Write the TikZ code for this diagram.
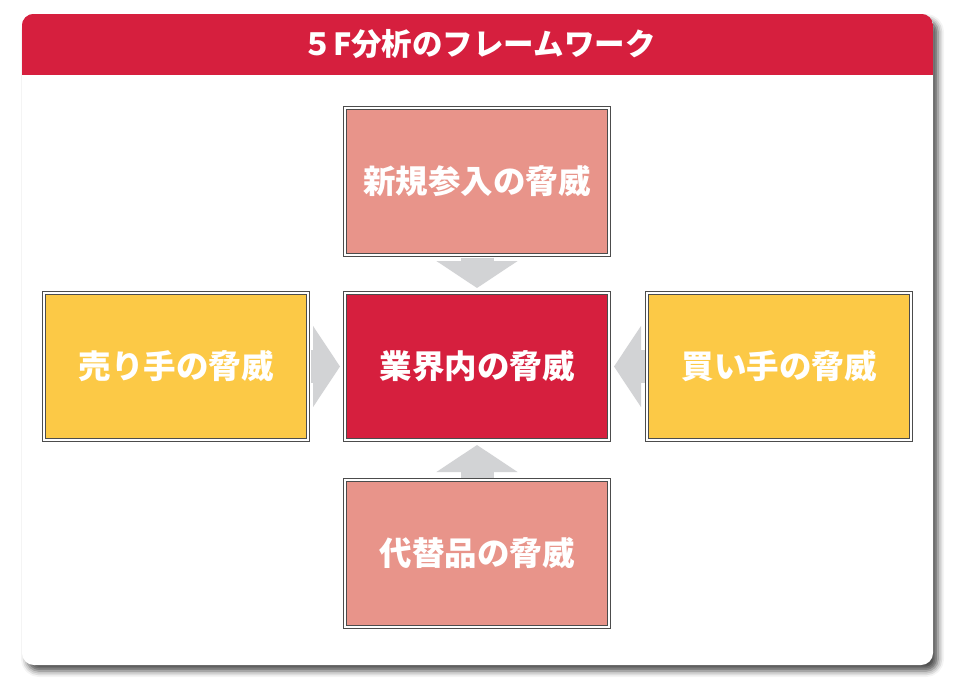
\documentclass[tikz,border=0pt]{standalone}
\usepackage{fontspec}
\setmainfont{Noto Sans CJK JP}
\usetikzlibrary{positioning, arrows.meta, shadows.blur}
\definecolor{headred}{HTML}{D61F3E}
\definecolor{salmon}{HTML}{E8948A}
\definecolor{amber}{HTML}{FCC946}
\definecolor{arrowgray}{HTML}{D2D3D5}

\begin{document}
\begin{tikzpicture}[x=1pt, y=-1pt,
  threat/.style={draw=black!70, line width=1pt, double=white, double distance=1.8pt,
    minimum width=264pt, minimum height=147pt, text=white,
    font=\fontsize{32.5}{38}\selectfont\bfseries},
  flow/.style={draw=arrowgray, line width=33pt, shorten >=4.5pt, shorten <=2pt,
    -{Triangle[width=80pt,length=27pt]}}]
\useasboundingbox (0,0) rectangle (957,686);

% card with shadow
\node[fill=white, rounded corners=12pt, minimum width=911pt, minimum height=651pt,
  blur shadow={shadow xshift=5pt, shadow yshift=-6pt, shadow blur radius=6pt, shadow opacity=70}]
  (card) at (477.5,339.5) {};

% header band
\begin{scope}
\clip[rounded corners=12pt] (card.north west) rectangle (card.south east);
\fill[headred] (card.north west) rectangle (card.east |- 0,75);
\end{scope}
\node[text=white, font=\fontsize{30.5}{34}\selectfont\bfseries] (title) at (479,44.5) {５F分析のフレームワーク};

% the five boxes
\node[threat, fill=headred] (industry) at (477,366.5) {業界内の脅威};
\node[threat, fill=salmon, above=37pt of industry] (newentry) {新規参入の脅威};
\node[threat, fill=amber, left=36pt of industry] (seller) {売り手の脅威};
\node[threat, fill=amber, right=37pt of industry] (buyer) {買い手の脅威};
\node[threat, fill=salmon, below=39pt of industry] (subst) {代替品の脅威};

% arrows into the middle
\foreach \src in {newentry, seller, buyer, subst}
\draw[flow] (\src) -- (industry);

\end{tikzpicture}
\end{document}
